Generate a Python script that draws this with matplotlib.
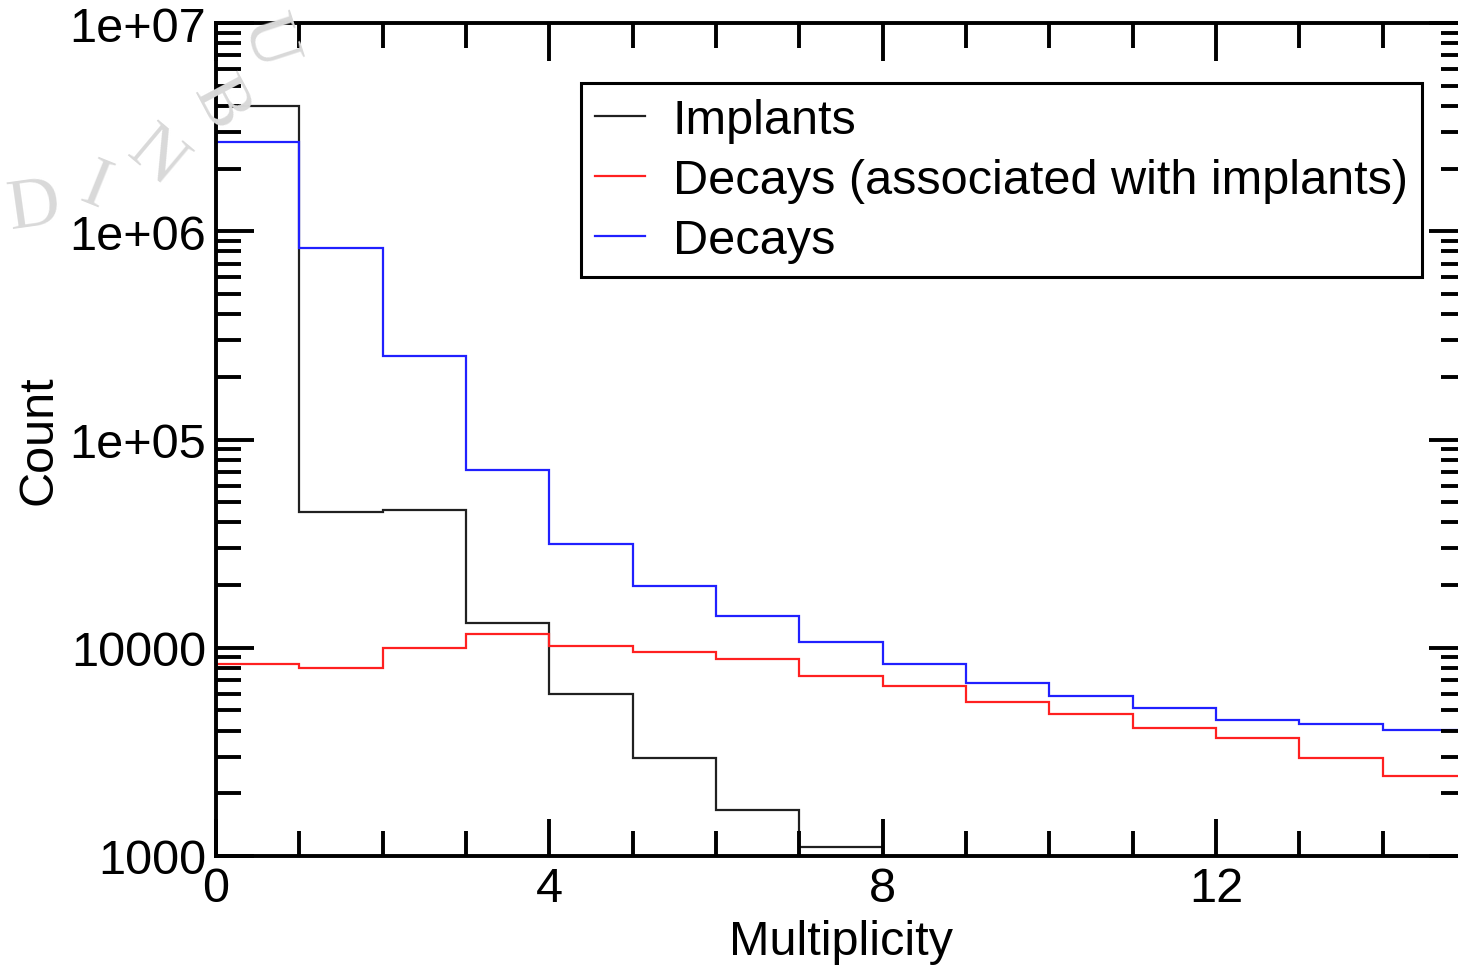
import numpy as np
import matplotlib
matplotlib.use('Agg')
import matplotlib.pyplot as plt
from matplotlib.ticker import FixedLocator, LogLocator, NullFormatter

plt.rcParams['font.family'] = ['Liberation Sans', 'DejaVu Sans']

# multiplicity bins 0..15
edges = np.arange(0, 16)

implants = [3.98e6, 4.50e4, 4.58e4, 1.31e4, 5.98e3, 2.95e3, 1.66e3, 1.10e3,
            0, 0, 0, 0, 0, 0, 0]
decays_assoc = [8.39e3, 7.99e3, 9.93e3, 1.164e4, 1.016e4, 9.58e3, 8.80e3, 7.31e3,
                6.55e3, 5.49e3, 4.83e3, 4.12e3, 3.70e3, 2.95e3, 2.42e3]
decays = [2.68e6, 8.34e5, 2.53e5, 7.13e4, 3.14e4, 1.98e4, 1.42e4, 1.065e4,
          8.32e3, 6.80e3, 5.86e3, 5.13e3, 4.50e3, 4.29e3, 4.01e3]

labels = ['Implants', 'Decays (associated with implants)', 'Decays']
colors = ['#202020', '#ff2020', '#2020ff']

fig = plt.figure(figsize=(14.58, 9.70), dpi=100)

# faint crest watermark letters in the top left corner
for ch, x, y, rot in [('D', 34, 208, 8), ('I', 95, 188, -22), ('N', 156, 158, -40),
                      ('B', 220, 105, -62), ('U', 268, 42, -72)]:
    fig.text(x / 1458, 1 - y / 970, ch, color='#d9d9d9', fontsize=52,
             family='Liberation Serif', rotation=rot, ha='center', va='center', zorder=0)

ax = fig.add_axes([216 / 1458, 113 / 970, 1250 / 1458, 833 / 970])
ax.patch.set_alpha(0)

ax.stairs(implants, edges, baseline=None, color=colors[0], lw=1.6, label=labels[0])
ax.stairs(decays_assoc, edges, baseline=None, color=colors[1], lw=1.6, label=labels[1])
ax.stairs(decays, edges, baseline=None, color=colors[2], lw=1.6, label=labels[2])

ax.set_yscale('log')
ax.set_ylim(1000, 1e7)
ax.set_xlim(0, 15)

ax.xaxis.set_major_locator(FixedLocator([0, 4, 8, 12]))
ax.xaxis.set_minor_locator(FixedLocator(range(0, 16)))
ax.yaxis.set_major_locator(FixedLocator([1e3, 1e4, 1e5, 1e6, 1e7]))
ax.yaxis.set_minor_locator(LogLocator(base=10, subs=np.arange(2, 10)))
ax.yaxis.set_minor_formatter(NullFormatter())
ax.set_yticklabels(['1000', '10000', '1e+05', '1e+06', '1e+07'])

ax.tick_params(which='both', direction='in', top=True, right=True, width=2.8,
               labelsize=35, pad=7)
ax.tick_params(which='major', length=27)
ax.tick_params(which='minor', length=18)
for s in ax.spines.values():
    s.set_linewidth(2.8)

ax.set_xlabel('Multiplicity', fontsize=35, labelpad=6)
ax.set_ylabel('Count', fontsize=35, labelpad=6)

leg = ax.legend(loc='upper right', bbox_to_anchor=(0.965, 0.928), borderaxespad=0,
                fontsize=35, handlelength=1.03, handletextpad=0.56, labelspacing=0.31,
                borderpad=0.3, fancybox=False, framealpha=1, edgecolor='black')
leg.get_frame().set_linewidth(2.2)

fig.savefig('out.png', dpi=100)
